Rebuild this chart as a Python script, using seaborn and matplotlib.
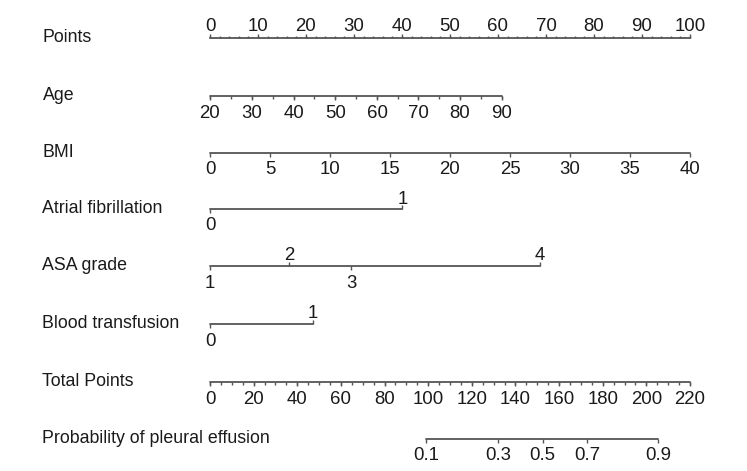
import numpy as np
import pandas as pd
import matplotlib
matplotlib.use("Agg")
import matplotlib.pyplot as plt
import seaborn as sns

# nomogram scales: tick labels and their position on the 0-100 points scale
points_labels = list(range(0, 101, 10))
age_labels = [20, 30, 40, 50, 60, 70, 80, 90]
age_points = [0, 8.7, 17.4, 26.1, 34.8, 43.4, 52.1, 60.8]
bmi_labels = [0, 5, 10, 15, 20, 25, 30, 35, 40]
bmi_points = [0, 12.5, 25, 37.5, 50, 62.5, 75, 87.5, 100]
af_labels = ["0", "1"]
af_points = [0, 40.1]
asa_labels = ["1", "2", "3", "4"]
asa_points = [0, 16.5, 29.4, 68.8]
bt_labels = ["0", "1"]
bt_points = [0, 21.5]
total_labels = list(range(0, 221, 20))
prob_labels = ["0.1", "0.3", "0.5", "0.7", "0.9"]
prob_total = [99.0, 132.0, 152.4, 172.8, 205.3]

TOTAL_MAX = 220
FS = 12.8
TICK_FS = 13.4
LINE_C = "#555555"
TEXT_C = "#1a1a1a"

sns.set_theme(style="white")
plt.rcParams["font.family"] = ["Liberation Sans", "DejaVu Sans"]

fig = plt.figure(figsize=(7.47, 4.71), dpi=100)
ax = fig.add_axes([0, 0, 1, 1])
# x in points units (0 -> 210px, 100 -> 690px), y in pixels from top
ax.set_xlim(-210 / 4.8, (747 - 210) / 4.8)
ax.set_ylim(471, 0)
ax.axis("off")

rows = {
    "Points": 38,
    "Age": 96,
    "BMI": 153,
    "Atrial fibrillation": 209,
    "ASA grade": 266,
    "Blood transfusion": 324,
    "Total Points": 382,
    "Probability of pleural effusion": 439,
}


def scale(name, xs, labels, sides, minor=None, up_gap=5.5):
    y = rows[name]
    df = pd.DataFrame({"x": [min(xs), max(xs)], "y": [y, y]})
    sns.lineplot(data=df, x="x", y="y", ax=ax, color=LINE_C, lw=1.3,
                 legend=False, estimator=None)
    ax.text(-34.9, y - 0.5, name, fontsize=FS, color=TEXT_C,
            va="center", ha="left")
    if minor is not None:
        for m in minor:
            ax.vlines(m, y, y - 2.5 if sides == "up" else y + 2.5,
                      color=LINE_C, lw=1)
    for i, (x, lab) in enumerate(zip(xs, labels)):
        side = sides if isinstance(sides, str) else sides[i]
        if side == "up":
            ax.vlines(x, y, y - 4, color=LINE_C, lw=1)
            ax.text(x, y - up_gap, str(lab), fontsize=TICK_FS, color=TEXT_C,
                    ha="center", va="baseline")
        else:
            ax.vlines(x, y, y + 4, color=LINE_C, lw=1)
            ax.text(x, y + 21.5, str(lab), fontsize=TICK_FS, color=TEXT_C,
                    ha="center", va="baseline")


scale("Points", points_labels, points_labels, "up",
      minor=np.arange(0, 101, 2), up_gap=7)
scale("Age", age_points, age_labels, "down",
      minor=np.interp(np.arange(20, 91, 5), age_labels, age_points))
scale("BMI", bmi_points, bmi_labels, "down")
scale("Atrial fibrillation", af_points, af_labels, ["down", "up"])
scale("ASA grade", asa_points, asa_labels, ["down", "up", "down", "up"])
scale("Blood transfusion", bt_points, bt_labels, ["down", "up"])
to_pts = 100 / TOTAL_MAX
scale("Total Points", [t * to_pts for t in total_labels], total_labels, "down",
      minor=np.arange(0, TOTAL_MAX + 1, 5) * to_pts)
scale("Probability of pleural effusion", [t * to_pts for t in prob_total],
      prob_labels, "down")

fig.savefig("out.png", dpi=100, facecolor="white")
